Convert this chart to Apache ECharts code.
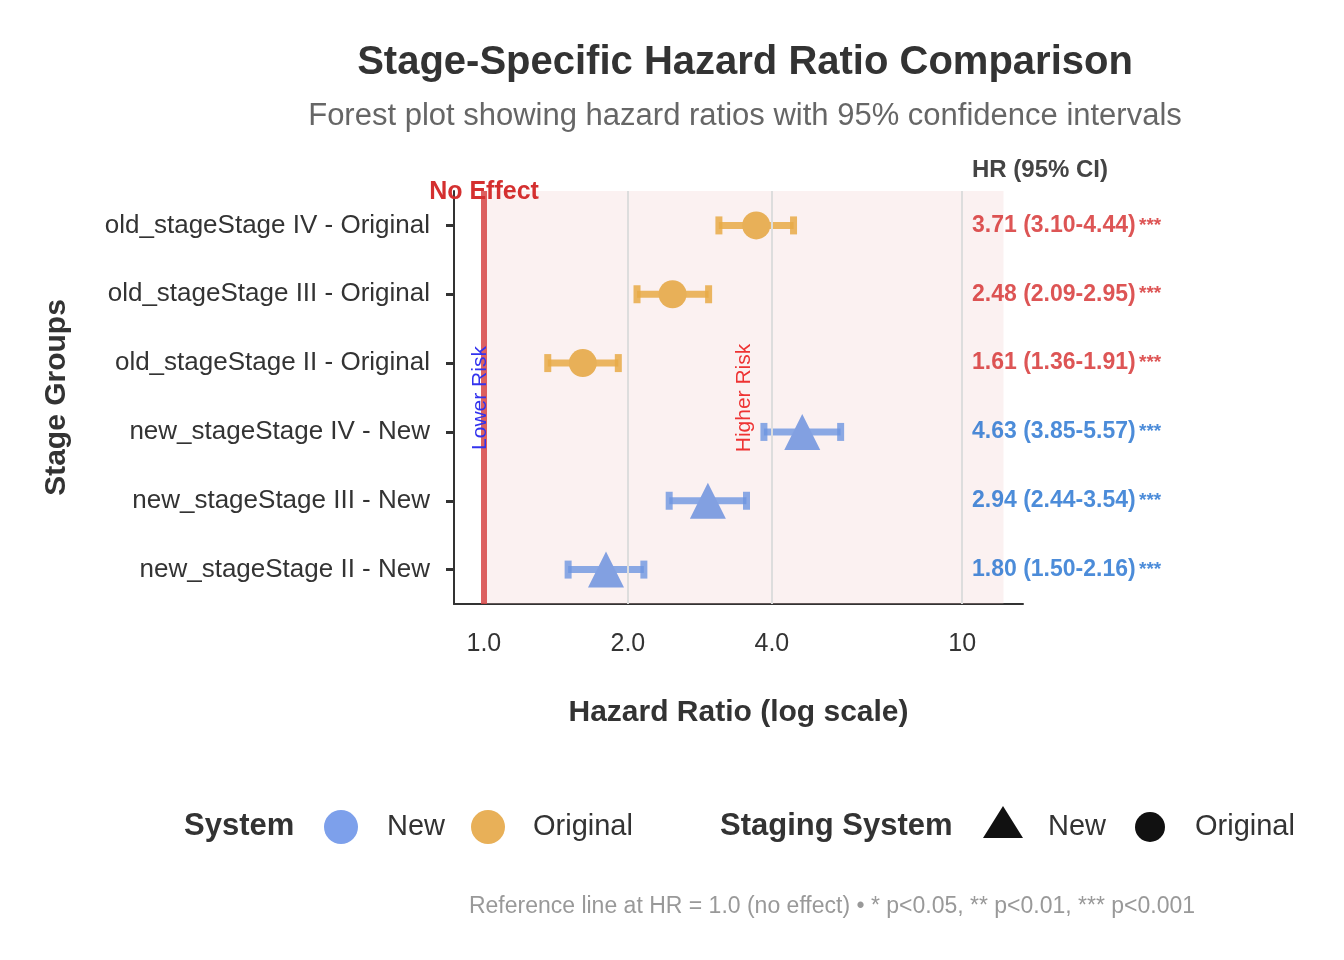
<!DOCTYPE html>
<html><head><meta charset="utf-8">
<script src="https://cdn.jsdelivr.net/npm/echarts@6/dist/echarts.min.js"></script>
<style>body{margin:0}#c{width:1344px;height:960px}</style></head>
<body><div id="c"></div>
<script>
// data, bottom row first
var groups = ['new_stageStage II - New', 'new_stageStage III - New', 'new_stageStage IV - New',
  'old_stageStage II - Original', 'old_stageStage III - Original', 'old_stageStage IV - Original'];
var systems = ['New', 'New', 'New', 'Original', 'Original', 'Original'];
var hr = [1.80, 2.94, 4.63, 1.61, 2.48, 3.71];
var lower = [1.50, 2.44, 3.85, 1.36, 2.09, 3.10];
var upper = [2.16, 3.54, 5.57, 1.91, 2.95, 4.44];
var stars = ['***', '***', '***', '***', '***', '***'];
var xTicks = [1, 2, 4, 10];

var colorOf = { New: 'rgba(110,150,225,0.8)', Original: 'rgba(232,170,70,0.85)' };
var textColorOf = { New: '#1f6fcf', Original: '#d42a2a' };
var L = Math.log2;

var chart = echarts.init(document.getElementById('c'));
var font = 'Liberation Sans, Arial, sans-serif';

var barData = groups.map(function (g, i) { return [L(lower[i]), L(upper[i]), i]; });
var ptNew = [], ptOld = [];
groups.forEach(function (g, i) {
  (systems[i] === 'New' ? ptNew : ptOld).push([L(hr[i]), i]);
});
var labelData = groups.map(function (g, i) { return [3.39, i]; });

chart.setOption({
  title: [{
    text: 'Stage-Specific Hazard Ratio Comparison', left: 740, top: 38, textAlign: 'center',
    textStyle: { fontFamily: font, fontSize: 40, fontWeight: 'bold', color: '#333' }
  }, {
    text: 'Forest plot showing hazard ratios with 95% confidence intervals', left: 740, top: 96, textAlign: 'center',
    textStyle: { fontFamily: font, fontSize: 31, fontWeight: 'normal', color: '#666' }
  }],
  grid: { left: 454, right: 321, top: 191, bottom: 356 },
  xAxis: {
    type: 'value', min: L(0.866), max: L(13.4),
    name: 'Hazard Ratio (log scale)', nameLocation: 'middle', nameGap: 94,
    nameTextStyle: { fontFamily: font, fontSize: 30, fontWeight: 'bold', color: '#333' },
    axisLine: { show: true, onZero: false, lineStyle: { color: '#333', width: 2 } },
    axisTick: { show: false },
    axisLabel: {
      customValues: xTicks.map(L), margin: 28, fontFamily: font, fontSize: 25, color: '#333',
      formatter: function (v) { var x = Math.round(Math.pow(2, v) * 10) / 10; return x >= 10 ? '10' : x.toFixed(1); }
    },
    splitLine: { show: false }
  },
  yAxis: {
    type: 'category', data: groups,
    axisLine: { show: true, onZero: false, lineStyle: { color: '#333', width: 2 } },
    axisTick: { show: true, alignWithLabel: true, length: 8, lineStyle: { color: '#333', width: 3 } },
    axisLabel: { fontFamily: font, fontSize: 26, color: '#333', margin: 24 },
    name: 'Stage Groups', nameLocation: 'middle', nameGap: 382, nameRotate: 90,
    nameTextStyle: { fontFamily: font, fontSize: 30, fontWeight: 'bold', color: '#333' }
  },
  series: [{
    type: 'custom', z: 1, silent: true, data: [[0]],
    renderItem: function (p, api) {
      var a = api.coord([0, 5]), b = api.coord([L(12.2), 0]);
      var top = p.coordSys.y, h = p.coordSys.height;
      return { type: 'rect', shape: { x: a[0], y: top, width: b[0] - a[0], height: h },
        style: { fill: 'rgba(240,200,200,0.25)' } };
    },
    markLine: {
      symbol: 'none', silent: true, label: { show: false },
      data: [
        { xAxis: L(2), lineStyle: { color: '#ddd', width: 2, type: 'solid' } },
        { xAxis: L(4), lineStyle: { color: '#ddd', width: 2, type: 'solid' } },
        { xAxis: L(10), lineStyle: { color: '#ddd', width: 2, type: 'solid' } },
        { xAxis: 0, lineStyle: { color: '#d64545', width: 6, type: 'solid', opacity: 0.85 } }
      ]
    }
  }, {
    type: 'custom', z: 3, data: barData,
    renderItem: function (p, api) {
      var i = api.value(2);
      var a = api.coord([api.value(0), i]), b = api.coord([api.value(1), i]);
      var st = { stroke: colorOf[systems[i]], lineWidth: 7 };
      return { type: 'group', children: [
        { type: 'line', shape: { x1: a[0], y1: a[1], x2: b[0], y2: b[1] }, style: st },
        { type: 'line', shape: { x1: a[0], y1: a[1] - 9, x2: a[0], y2: a[1] + 9 }, style: st },
        { type: 'line', shape: { x1: b[0], y1: b[1] - 9, x2: b[0], y2: b[1] + 9 }, style: st }
      ] };
    }
  }, {
    type: 'scatter', z: 4, data: ptOld, symbol: 'circle', symbolSize: 28,
    itemStyle: { color: 'rgb(232,176,88)', opacity: 1 }
  }, {
    type: 'scatter', z: 4, data: ptNew, symbol: 'triangle', symbolSize: 36,
    itemStyle: { color: 'rgb(130,160,225)', opacity: 1 }
  }, {
    type: 'scatter', z: 5, data: labelData, symbolSize: 0,
    label: {
      show: true, position: 'right', distance: 0,
      formatter: function (p) {
        var i = p.data[1];
        return '{' + systems[i] + '|' + hr[i].toFixed(2) + ' (' + lower[i].toFixed(2) + '-' + upper[i].toFixed(2) + ')} {s' + systems[i] + '|' + stars[i] + '}';
      },
      rich: {
        New: { color: textColorOf.New, fontFamily: font, fontSize: 23, fontWeight: 'bold' },
        Original: { color: textColorOf.Original, fontFamily: font, fontSize: 23, fontWeight: 'bold' },
        sNew: { color: textColorOf.New, fontFamily: font, fontSize: 19, fontWeight: 'bold' },
        sOriginal: { color: textColorOf.Original, fontFamily: font, fontSize: 19, fontWeight: 'bold' }
      }
    }
  }],
  graphic: [
    { type: 'text', left: 972, top: 158, z: 10, style: { text: 'HR (95% CI)', font: 'bold 24px ' + font, fill: '#444' } },
    { type: 'text', x: 484, y: 192, z: 10, style: { text: 'No Effect', font: 'bold 25px ' + font, fill: '#d43030', align: 'center', verticalAlign: 'middle' } },
    { type: 'text', x: 480, y: 398, rotation: Math.PI / 2, z: 10, style: { text: 'Lower Risk', font: '21px ' + font, fill: '#3333ee', align: 'center', verticalAlign: 'middle' } },
    { type: 'text', x: 744, y: 398, rotation: Math.PI / 2, z: 10, style: { text: 'Higher Risk', font: '21px ' + font, fill: '#ee3333', align: 'center', verticalAlign: 'middle' } },
    // legend: System
    { type: 'text', left: 184, top: 811, style: { text: 'System', font: 'bold 31px ' + font, fill: '#333' } },
    { type: 'circle', shape: { cx: 341, cy: 827, r: 17 }, style: { fill: 'rgb(125,160,235)' } },
    { type: 'text', left: 387, top: 812, style: { text: 'New', font: '29px ' + font, fill: '#333' } },
    { type: 'circle', shape: { cx: 488, cy: 827, r: 17 }, style: { fill: 'rgb(232,176,88)' } },
    { type: 'text', left: 533, top: 812, style: { text: 'Original', font: '29px ' + font, fill: '#333' } },
    // legend: Staging System
    { type: 'text', left: 720, top: 811, style: { text: 'Staging System', font: 'bold 31px ' + font, fill: '#333' } },
    { type: 'polygon', shape: { points: [[1003, 806], [983, 838], [1023, 838]] }, style: { fill: '#111' } },
    { type: 'text', left: 1048, top: 812, style: { text: 'New', font: '29px ' + font, fill: '#333' } },
    { type: 'circle', shape: { cx: 1150, cy: 827, r: 15 }, style: { fill: '#111' } },
    { type: 'text', left: 1195, top: 812, style: { text: 'Original', font: '29px ' + font, fill: '#333' } },
    { type: 'text', x: 832, y: 907, style: { text: 'Reference line at HR = 1.0 (no effect) \u2022 * p<0.05, ** p<0.01, *** p<0.001', font: '23px ' + font, fill: '#999', align: 'center', verticalAlign: 'middle' } }
  ]
});
</script></body></html>
